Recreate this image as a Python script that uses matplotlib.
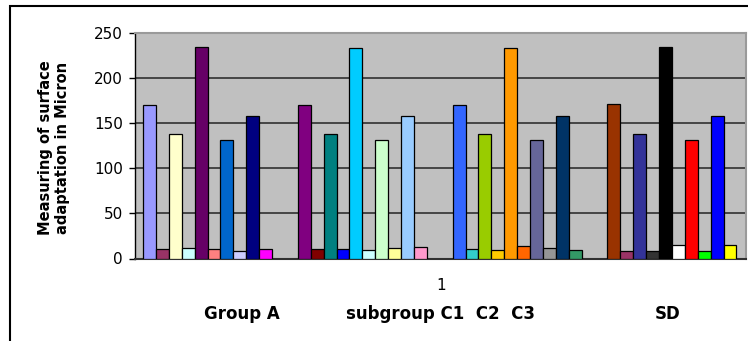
import matplotlib
matplotlib.use("Agg")
import matplotlib.pyplot as plt
from matplotlib.patches import Rectangle

plt.rcParams['font.family'] = ['DejaVu Sans']

# 46 series in one category "1" (Excel palette order); empty series have None
series_values = [
    170, 10, 138, 12, 235, 11, 132, 8, 158, 10,
    None, None,
    170, 10, 138, 11, 234, 9.5, 132, 12, 158, 12.5,
    None, None,
    170, 10.7, 138, 9.6, 234, 14, 132, 12, 158, 9.6,
    None, None,
    171, 8, 138, 8.4, 234.5, 15, 132, 8, 158, 15,
]
series_colors = [
    '#9999FF', '#993366', '#FFFFCC', '#CCFFFF', '#660066', '#FF8080', '#0066CC', '#CCCCFF', '#000080', '#FF00FF',
    '#FFFF00', '#00FFFF',
    '#800080', '#800000', '#008080', '#0000FF', '#00CCFF', '#CCFFFF', '#CCFFCC', '#FFFF99', '#99CCFF', '#FF99CC',
    '#CC99FF', '#FFCC99',
    '#3366FF', '#33CCCC', '#99CC00', '#FFCC00', '#FF9900', '#FF6600', '#666699', '#969696', '#003366', '#339966',
    '#003300', '#333300',
    '#993300', '#993366', '#333399', '#333333', '#000000', '#FFFFFF', '#FF0000', '#00FF00', '#0000FF', '#FFFF00',
]
category_label = '1'
y_ticks = [0, 50, 100, 150, 200, 250]
y_label = 'Measuring of surface\nadaptation in Micron'
title_parts = ['Group A', 'subgroup C1  C2  C3', 'SD']

W, H = 748, 341
fig = plt.figure(figsize=(W / 100, H / 100), dpi=100)

# outer chart border
fig.patches.append(Rectangle((9.5 / W, -0.1), 1.2, (H - 5.5) / H + 0.1,
                             transform=fig.transFigure, fill=False,
                             edgecolor='black', linewidth=1.5))

l, r, t, b = 134.5, 746, 33.3, 258.5
ax = fig.add_axes([l / W, (H - b) / H, (r - l) / W, (b - t) / H])
ax.set_facecolor('#C0C0C0')

for i, (v, c) in enumerate(zip(series_values, series_colors)):
    if v is None:
        continue
    ax.bar(i, v, width=1.0, align='edge', color=c, edgecolor='black',
           linewidth=0.9, zorder=3)

bar_px = 12.9
units = (r - l) / bar_px
left_margin = (143 - l) / bar_px
ax.set_xlim(-left_margin, units - left_margin)
ax.set_ylim(0, 250)
ax.set_yticks(y_ticks)
ax.set_yticklabels([str(v) for v in y_ticks], fontsize=11)
for yv in y_ticks[1:-1]:
    ax.axhline(yv, color='#303030', linewidth=1.2, zorder=1)

ax.set_xticks([])
ax.tick_params(axis='y', direction='out', length=4.5, width=1, pad=4, colors='black')

ax.spines['left'].set_color('black')
ax.spines['left'].set_linewidth(1)
ax.spines['bottom'].set_color('#303030')
ax.spines['bottom'].set_linewidth(1.5)
ax.spines['top'].set_color('#9a9a9a')
ax.spines['top'].set_linewidth(1.5)
ax.spines['right'].set_color('#9a9a9a')
ax.spines['right'].set_linewidth(1.5)

fig.text(54 / W, 1 - 148 / H, y_label, rotation=90, ha='center', va='center',
         fontsize=10.5, fontweight='bold', linespacing=1.15)

fig.text(441 / W, 1 - 286 / H, category_label, ha='center', va='center', fontsize=11)

title_x = [241.5, 440, 668]
for txt, x in zip(title_parts, title_x):
    fig.text(x / W, 1 - 314 / H, txt, ha='center', va='center', fontsize=12,
             fontweight='bold')

fig.savefig('out.png', dpi=100)
